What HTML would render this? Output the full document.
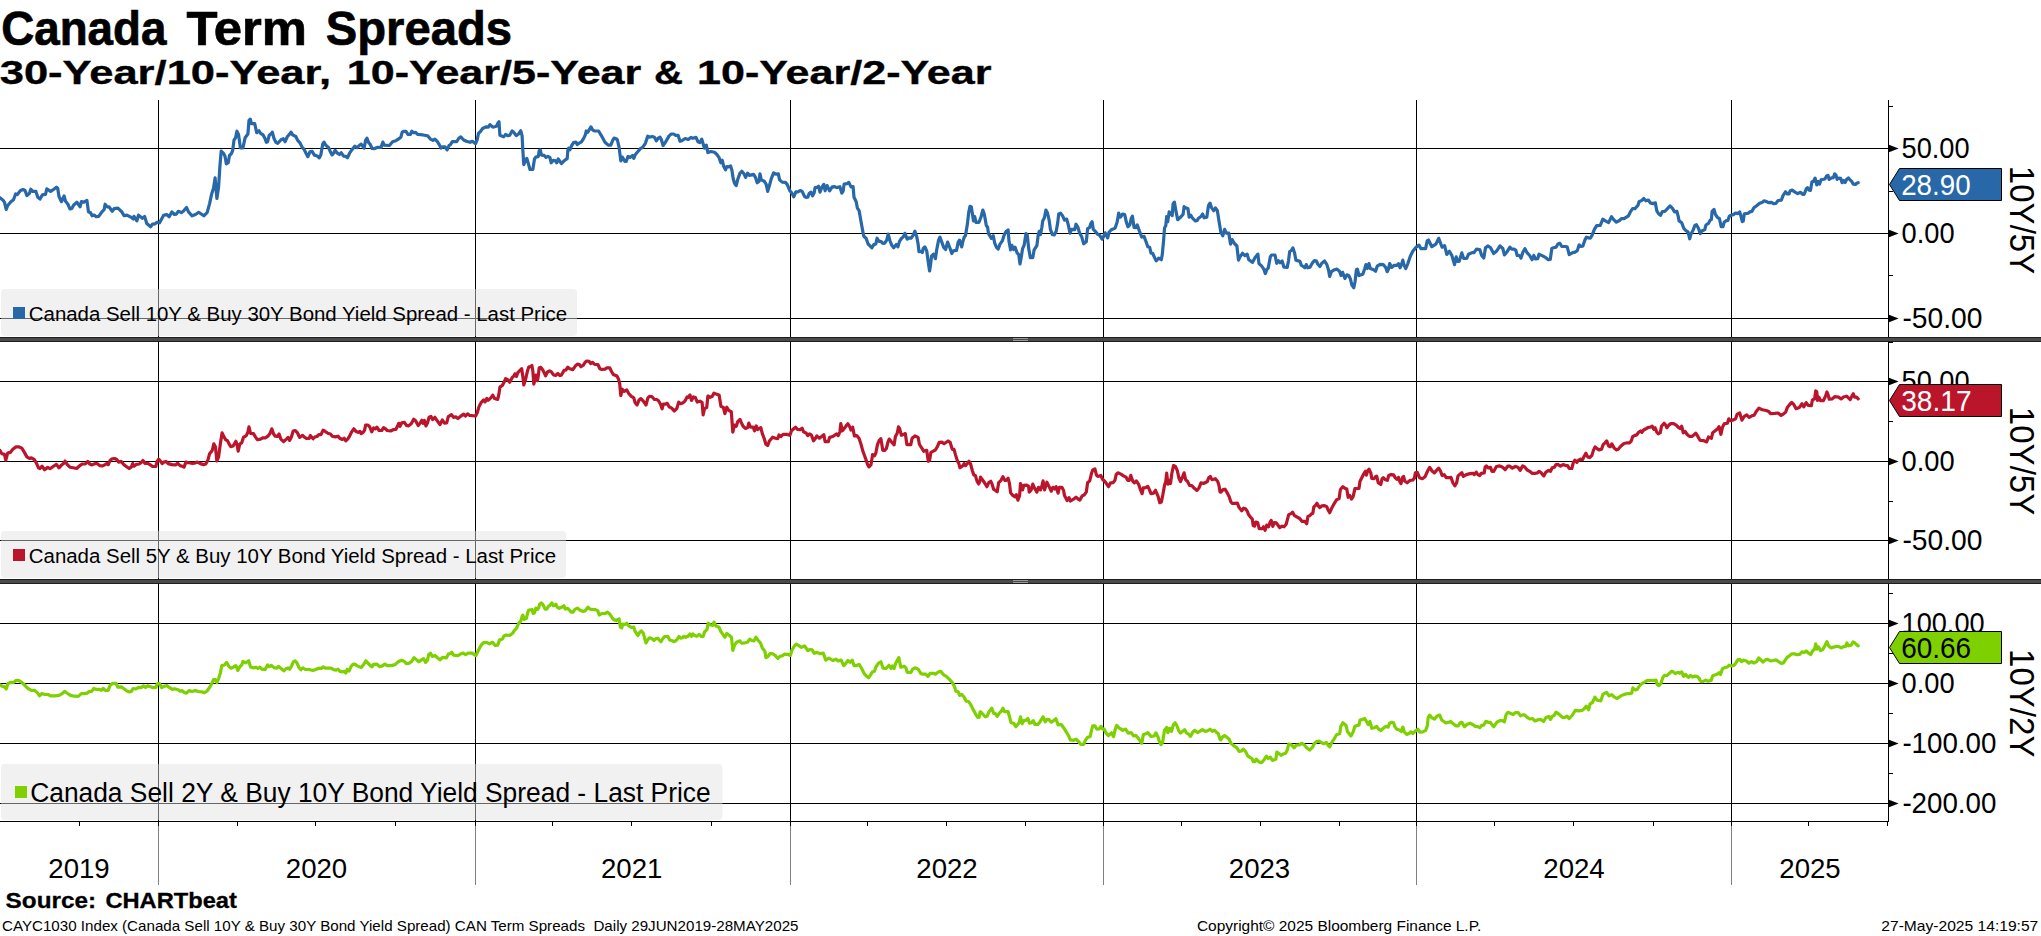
<!DOCTYPE html>
<html><head><meta charset="utf-8"><title>Canada Term Spreads</title>
<style>
html,body{margin:0;padding:0;background:#fff;}
body{width:2041px;height:936px;overflow:hidden;font-family:"Liberation Sans",sans-serif;}
svg{display:block;}
text{font-family:"Liberation Sans",sans-serif;fill:#000;}
.b{font-weight:bold;}
.g line{stroke:#000;stroke-width:1;shape-rendering:crispEdges;}
.d{fill:none;stroke-linejoin:round;stroke-linecap:round;}
</style></head>
<body>
<svg width="2041" height="936" viewBox="0 0 2041 936">
<rect x="0" y="0" width="2041" height="936" fill="#fff"/>
<text x="1.2" y="45.4" font-size="47.6" textLength="165.2" lengthAdjust="spacingAndGlyphs" class="b" stroke="#000" stroke-width="0.7">Canada</text>
<text x="186.5" y="45.4" font-size="47.6" textLength="120.5" lengthAdjust="spacingAndGlyphs" class="b" stroke="#000" stroke-width="0.7">Term</text>
<text x="325.8" y="45.4" font-size="47.6" textLength="186.2" lengthAdjust="spacingAndGlyphs" class="b" stroke="#000" stroke-width="0.7">Spreads</text>
<text x="-0.3" y="83.8" font-size="33.3" textLength="331.5" lengthAdjust="spacingAndGlyphs" class="b" stroke="#000" stroke-width="0.35">30-Year/10-Year,</text>
<text x="346.8" y="83.8" font-size="33.3" textLength="294.5" lengthAdjust="spacingAndGlyphs" class="b" stroke="#000" stroke-width="0.35">10-Year/5-Year</text>
<text x="654" y="83.8" font-size="33.3" textLength="29" lengthAdjust="spacingAndGlyphs" class="b" stroke="#000" stroke-width="0.35">&amp;</text>
<text x="697" y="83.8" font-size="33.3" textLength="294.5" lengthAdjust="spacingAndGlyphs" class="b" stroke="#000" stroke-width="0.35">10-Year/2-Year</text>
<g class="g">
<line x1="158.5" y1="100" x2="158.5" y2="826"/>
<line x1="158.5" y1="826" x2="158.5" y2="885" style="stroke:#808080"/>
<line x1="475.5" y1="100" x2="475.5" y2="826"/>
<line x1="475.5" y1="826" x2="475.5" y2="885" style="stroke:#808080"/>
<line x1="790.5" y1="100" x2="790.5" y2="826"/>
<line x1="790.5" y1="826" x2="790.5" y2="885" style="stroke:#808080"/>
<line x1="1103.5" y1="100" x2="1103.5" y2="826"/>
<line x1="1103.5" y1="826" x2="1103.5" y2="885" style="stroke:#808080"/>
<line x1="1416.5" y1="100" x2="1416.5" y2="826"/>
<line x1="1416.5" y1="826" x2="1416.5" y2="885" style="stroke:#808080"/>
<line x1="1731.5" y1="100" x2="1731.5" y2="826"/>
<line x1="1731.5" y1="826" x2="1731.5" y2="885" style="stroke:#808080"/>
<line x1="0" y1="148.5" x2="1889" y2="148.5"/>
<line x1="0" y1="233.5" x2="1889" y2="233.5"/>
<line x1="0" y1="318.5" x2="1889" y2="318.5"/>
<line x1="0" y1="381.5" x2="1889" y2="381.5"/>
<line x1="0" y1="461.5" x2="1889" y2="461.5"/>
<line x1="0" y1="540.5" x2="1889" y2="540.5"/>
<line x1="0" y1="623.5" x2="1889" y2="623.5"/>
<line x1="0" y1="683.5" x2="1889" y2="683.5"/>
<line x1="0" y1="743.5" x2="1889" y2="743.5"/>
<line x1="0" y1="803.5" x2="1889" y2="803.5"/>
<line x1="1888.5" y1="100" x2="1888.5" y2="822"/>
<line x1="0" y1="821.5" x2="1889" y2="821.5"/>
<line x1="79.5" y1="822" x2="79.5" y2="826"/>
<line x1="237.5" y1="822" x2="237.5" y2="826"/>
<line x1="315.5" y1="822" x2="315.5" y2="826"/>
<line x1="395.5" y1="822" x2="395.5" y2="826"/>
<line x1="552.5" y1="822" x2="552.5" y2="826"/>
<line x1="631.5" y1="822" x2="631.5" y2="826"/>
<line x1="711.5" y1="822" x2="711.5" y2="826"/>
<line x1="867.5" y1="822" x2="867.5" y2="826"/>
<line x1="946.5" y1="822" x2="946.5" y2="826"/>
<line x1="1025.5" y1="822" x2="1025.5" y2="826"/>
<line x1="1181.5" y1="822" x2="1181.5" y2="826"/>
<line x1="1260.5" y1="822" x2="1260.5" y2="826"/>
<line x1="1339.5" y1="822" x2="1339.5" y2="826"/>
<line x1="1494.5" y1="822" x2="1494.5" y2="826"/>
<line x1="1573.5" y1="822" x2="1573.5" y2="826"/>
<line x1="1653.5" y1="822" x2="1653.5" y2="826"/>
<line x1="1808.5" y1="822" x2="1808.5" y2="826"/>
<line x1="1887.5" y1="822" x2="1887.5" y2="826"/>
<line x1="1889" y1="106.5" x2="1893" y2="106.5"/>
<line x1="1889" y1="191.5" x2="1893" y2="191.5"/>
<line x1="1889" y1="275.5" x2="1893" y2="275.5"/>
<line x1="1889" y1="342.5" x2="1893" y2="342.5"/>
<line x1="1889" y1="421.5" x2="1893" y2="421.5"/>
<line x1="1889" y1="501.5" x2="1893" y2="501.5"/>
<line x1="1889" y1="593.5" x2="1893" y2="593.5"/>
<line x1="1889" y1="653.5" x2="1893" y2="653.5"/>
<line x1="1889" y1="713.5" x2="1893" y2="713.5"/>
<line x1="1889" y1="773.5" x2="1893" y2="773.5"/>
</g>
<path d="M1889 144.8 L1898.6 148.5 L1889 152.2 Z" fill="#000"/>
<path d="M1889 229.8 L1898.6 233.5 L1889 237.2 Z" fill="#000"/>
<path d="M1889 314.8 L1898.6 318.5 L1889 322.2 Z" fill="#000"/>
<path d="M1889 377.8 L1898.6 381.5 L1889 385.2 Z" fill="#000"/>
<path d="M1889 457.8 L1898.6 461.5 L1889 465.2 Z" fill="#000"/>
<path d="M1889 536.8 L1898.6 540.5 L1889 544.2 Z" fill="#000"/>
<path d="M1889 619.8 L1898.6 623.5 L1889 627.2 Z" fill="#000"/>
<path d="M1889 679.8 L1898.6 683.5 L1889 687.2 Z" fill="#000"/>
<path d="M1889 739.8 L1898.6 743.5 L1889 747.2 Z" fill="#000"/>
<path d="M1889 799.8 L1898.6 803.5 L1889 807.2 Z" fill="#000"/>
<path class="d" d="M0.0 197.8 L3.2 200.4 L4.5 202.3 L6.2 209.4 L7.7 205.5 L10.9 201.7 L13.5 199.7 L15.6 194.0 L17.3 194.6 L20.5 190.5 L23.1 189.5 L25.0 190.5 L26.9 195.6 L29.5 193.3 L30.8 189.2 L32.7 191.4 L35.9 191.4 L37.8 197.2 L40.0 199.1 L42.3 194.9 L45.5 194.4 L46.8 188.8 L50.6 191.4 L53.8 189.2 L56.4 187.2 L57.7 188.2 L59.0 196.5 L61.5 201.7 L64.1 195.9 L65.4 201.0 L67.9 204.2 L69.9 209.0 L71.8 208.5 L73.7 204.9 L76.9 202.3 L80.1 206.8 L81.4 201.7 L84.0 202.1 L86.9 200.4 L88.5 211.9 L90.4 212.6 L92.1 215.8 L94.2 215.1 L96.2 216.7 L98.7 216.4 L101.9 211.9 L104.1 209.7 L105.1 204.2 L107.1 206.8 L109.0 206.8 L112.2 211.3 L114.1 208.7 L117.9 208.1 L121.8 211.9 L124.1 215.8 L126.9 215.1 L130.8 217.1 L133.3 219.0 L134.0 216.4 L136.9 220.9 L138.5 215.1 L142.3 218.3 L144.6 216.4 L146.8 223.5 L150.6 226.7 L152.6 224.1 L155.1 223.8 L157.1 222.2 L159.6 222.8 L163.5 215.4 L166.7 214.5 L169.2 216.7 L171.8 211.9 L174.4 214.5 L176.3 214.1 L178.2 211.3 L181.4 212.6 L183.3 211.3 L186.5 207.4 L188.5 211.9 L192.1 215.8 L195.5 214.5 L198.7 212.3 L203.8 215.8 L207.1 212.6 L209.6 203.6 L211.5 194.6 L213.5 188.2 L215.1 177.9 L216.9 198.5 L218.6 186.9 L219.9 166.4 L221.2 151.0 L223.7 153.6 L225.0 156.2 L226.3 163.8 L228.2 162.6 L229.5 155.5 L231.4 153.6 L232.7 150.4 L234.0 140.1 L235.6 137.6 L236.9 131.2 L238.5 134.4 L240.4 147.8 L242.9 147.8 L245.1 137.8 L247.9 134.0 L249.0 120.5 L250.3 119.2 L251.5 123.7 L254.7 123.7 L256.7 132.7 L259.0 130.8 L260.5 133.3 L263.1 134.9 L265.0 138.5 L266.3 142.3 L267.6 141.7 L269.2 135.3 L271.4 133.6 L272.3 132.1 L274.0 138.5 L275.9 142.3 L277.8 143.3 L281.0 139.7 L283.3 138.7 L285.1 141.7 L287.4 136.5 L289.4 134.4 L291.0 132.1 L292.6 134.9 L295.8 136.5 L297.7 140.4 L300.0 142.9 L302.2 147.4 L304.1 149.4 L306.0 153.2 L307.9 156.7 L309.9 151.9 L312.1 151.3 L314.4 155.1 L316.9 155.8 L319.2 157.9 L320.8 155.1 L322.7 144.2 L324.0 142.1 L325.6 145.1 L328.5 147.4 L330.4 151.9 L332.1 154.9 L333.6 153.2 L335.1 150.3 L337.4 153.2 L339.4 154.5 L341.3 152.8 L343.6 156.2 L345.8 156.4 L347.4 157.7 L349.6 153.2 L352.2 149.4 L354.7 146.2 L357.3 147.7 L359.2 145.5 L361.2 144.2 L364.1 148.1 L365.6 140.4 L366.9 138.2 L368.8 142.9 L370.1 144.2 L372.1 148.5 L374.0 148.7 L377.2 147.4 L381.0 147.4 L382.9 142.1 L384.2 145.1 L389.4 145.5 L392.6 141.7 L395.8 140.8 L398.3 139.1 L400.9 137.2 L402.2 132.1 L403.5 131.4 L406.0 131.4 L407.9 134.4 L410.5 134.4 L411.8 131.2 L413.7 132.7 L415.6 132.3 L417.6 134.4 L420.8 134.6 L424.6 135.3 L427.8 135.9 L430.4 139.1 L432.9 140.4 L434.9 139.1 L437.4 141.7 L439.4 144.9 L441.0 148.1 L442.6 146.8 L445.1 146.8 L447.1 150.0 L449.0 145.5 L450.3 144.9 L452.2 141.7 L456.7 141.7 L458.6 138.5 L460.8 136.9 L463.7 140.0 L466.3 141.3 L470.1 142.3 L472.3 141.3 L475.6 143.6 L477.2 139.7 L478.5 133.3 L480.0 132.1 L482.6 128.5 L485.8 126.9 L488.3 127.2 L490.0 124.6 L492.8 127.2 L496.4 126.3 L497.9 123.1 L499.0 121.8 L499.9 135.3 L503.7 136.9 L505.6 134.4 L507.6 135.6 L509.7 135.3 L512.1 131.0 L513.6 132.1 L516.2 135.6 L518.5 134.0 L520.8 130.8 L522.1 135.9 L522.9 151.3 L523.8 164.7 L525.1 161.5 L526.8 158.3 L528.5 164.1 L530.0 169.5 L532.8 169.5 L534.5 159.0 L535.8 157.1 L538.3 156.4 L539.2 150.6 L540.3 150.0 L541.5 155.1 L544.1 155.4 L546.0 157.4 L547.9 156.4 L549.9 157.4 L551.2 162.8 L553.3 160.3 L555.4 160.9 L556.7 162.8 L558.2 159.0 L561.4 163.5 L564.6 160.3 L567.2 158.7 L567.8 150.6 L568.7 148.1 L570.0 149.7 L571.7 145.5 L573.6 142.6 L575.9 142.1 L577.2 144.6 L579.4 142.9 L581.3 142.1 L583.8 138.2 L585.4 134.6 L586.2 131.0 L587.7 132.3 L589.6 129.2 L590.9 126.9 L592.8 130.1 L594.7 131.0 L598.6 131.0 L601.2 135.3 L605.0 142.3 L608.2 145.1 L610.8 145.1 L612.7 140.4 L614.0 138.2 L615.9 138.5 L617.4 140.0 L619.1 147.4 L620.8 160.9 L622.3 157.1 L624.9 161.5 L626.2 161.3 L628.1 156.4 L630.0 157.4 L632.6 155.4 L633.8 158.3 L635.4 154.5 L640.3 148.7 L642.6 147.4 L645.4 143.3 L647.7 136.2 L649.2 137.2 L652.4 136.5 L654.4 137.2 L656.3 140.8 L658.2 138.2 L660.1 137.2 L661.4 139.7 L663.1 145.5 L665.3 142.3 L666.5 140.4 L669.1 135.9 L671.3 134.0 L673.6 134.0 L675.5 135.3 L678.1 135.3 L680.0 141.3 L681.9 140.8 L685.1 138.5 L688.3 139.5 L690.9 137.4 L692.8 138.2 L696.0 137.4 L697.9 141.7 L699.9 142.6 L701.8 139.1 L704.4 148.1 L706.3 145.1 L707.9 152.6 L710.8 151.5 L714.6 152.3 L716.9 154.5 L719.1 157.7 L720.8 162.8 L722.3 160.3 L723.6 166.0 L725.5 169.9 L726.8 166.7 L728.7 166.9 L730.6 166.0 L731.9 170.3 L733.2 178.8 L734.5 183.3 L736.2 185.6 L737.7 179.5 L740.0 173.1 L740.5 172.8 L741.8 171.3 L744.1 174.1 L745.6 177.3 L747.6 173.1 L749.5 175.4 L753.6 174.4 L755.6 177.7 L757.2 182.8 L759.1 181.2 L760.0 173.8 L761.3 179.9 L764.2 181.2 L766.2 184.4 L767.7 191.4 L769.4 185.6 L771.3 178.6 L773.6 172.8 L775.8 174.1 L778.3 173.8 L779.6 179.9 L782.2 182.1 L785.4 182.4 L787.3 184.6 L789.9 190.8 L791.8 193.1 L793.7 196.9 L795.9 191.8 L798.2 191.8 L800.1 190.5 L802.1 191.4 L804.6 196.5 L806.2 197.4 L807.8 197.2 L809.1 193.6 L811.0 192.1 L812.6 195.9 L814.2 192.7 L815.1 187.6 L817.4 187.2 L818.5 186.3 L820.0 192.1 L821.9 187.2 L823.8 184.4 L825.1 190.8 L827.1 185.6 L829.6 190.8 L832.2 186.9 L834.7 186.7 L836.7 187.6 L839.9 186.7 L841.8 193.1 L843.1 191.4 L844.1 184.1 L846.9 183.7 L848.8 182.4 L851.0 186.9 L853.1 186.7 L854.0 197.2 L856.2 201.7 L857.4 208.1 L859.1 210.6 L861.0 221.5 L862.9 231.8 L863.8 236.3 L866.2 238.5 L868.1 244.0 L870.0 245.9 L871.9 247.8 L873.8 244.6 L875.8 244.0 L877.1 238.2 L879.0 241.4 L880.9 241.4 L882.8 243.3 L884.7 243.1 L886.7 240.1 L888.2 234.1 L889.9 240.5 L891.8 245.3 L893.7 247.8 L896.3 244.4 L897.9 246.9 L899.5 241.4 L901.4 238.5 L903.3 236.9 L904.9 233.3 L907.2 239.2 L909.1 237.9 L911.0 238.2 L912.9 235.6 L914.9 231.2 L916.8 236.9 L918.1 244.0 L919.0 251.7 L920.6 251.3 L922.3 252.6 L923.2 248.5 L924.9 246.9 L926.7 250.8 L928.3 262.6 L929.6 270.9 L930.5 265.1 L931.5 256.2 L933.5 254.2 L935.4 258.7 L936.7 249.7 L938.6 240.1 L939.9 237.2 L941.8 242.1 L943.7 247.4 L945.6 249.5 L947.6 242.1 L950.1 248.5 L951.8 253.6 L953.3 250.8 L956.5 250.4 L958.2 242.1 L959.5 240.1 L961.7 246.9 L962.9 241.4 L964.2 237.2 L965.5 235.6 L967.4 224.1 L968.7 212.6 L970.0 206.4 L971.3 206.8 L973.5 221.0 L974.7 216.5 L976.0 222.3 L979.0 222.3 L981.2 216.5 L982.8 210.1 L984.4 214.6 L986.3 225.5 L987.6 227.2 L988.5 233.6 L991.4 238.3 L993.3 235.8 L994.6 242.8 L996.5 247.3 L998.2 249.0 L1000.0 244.1 L1002.3 240.9 L1004.2 235.1 L1006.2 231.3 L1008.1 230.0 L1009.0 241.3 L1010.6 249.9 L1011.9 245.4 L1013.6 249.5 L1015.1 247.3 L1017.1 253.1 L1018.7 254.4 L1020.0 264.0 L1021.3 256.9 L1022.6 248.6 L1024.1 245.4 L1026.0 233.6 L1027.3 235.1 L1028.6 247.9 L1030.3 257.6 L1032.8 257.6 L1034.1 249.9 L1036.9 245.6 L1038.2 235.1 L1039.2 231.3 L1040.5 234.5 L1041.8 227.7 L1042.7 221.0 L1044.4 217.8 L1045.9 210.1 L1047.4 212.7 L1049.1 220.0 L1050.4 229.4 L1052.3 234.5 L1054.2 234.9 L1056.2 231.3 L1057.7 222.9 L1058.7 214.0 L1060.6 213.1 L1062.6 215.9 L1064.5 220.0 L1066.7 219.1 L1068.3 224.9 L1070.0 233.2 L1071.5 229.4 L1074.7 229.7 L1076.0 224.2 L1077.9 227.2 L1079.5 232.8 L1081.8 237.1 L1083.7 243.8 L1086.3 241.8 L1087.6 228.7 L1089.5 227.7 L1090.8 223.6 L1092.1 221.7 L1093.3 229.4 L1095.3 231.3 L1097.2 233.8 L1099.7 235.4 L1102.1 239.2 L1103.6 236.4 L1105.1 232.8 L1107.7 237.9 L1109.0 232.3 L1111.3 229.7 L1115.1 228.1 L1117.1 222.3 L1118.7 213.1 L1120.3 217.2 L1122.6 214.0 L1124.7 214.6 L1126.4 222.3 L1127.9 226.8 L1129.9 224.6 L1131.2 218.5 L1132.4 216.2 L1134.1 227.4 L1135.9 227.7 L1137.2 224.9 L1139.5 231.3 L1141.8 237.1 L1144.0 236.4 L1145.9 241.3 L1147.8 246.7 L1149.7 247.3 L1151.0 253.1 L1152.6 253.3 L1154.9 258.2 L1156.2 260.8 L1158.7 258.2 L1161.3 259.7 L1162.3 254.4 L1163.6 240.3 L1164.5 228.1 L1165.8 225.5 L1166.7 216.5 L1167.7 221.7 L1169.2 211.8 L1170.9 213.6 L1172.2 215.6 L1173.1 203.7 L1174.4 202.1 L1176.0 211.4 L1177.7 219.7 L1179.9 217.8 L1183.1 214.4 L1184.1 206.7 L1185.6 207.9 L1187.9 208.5 L1189.2 217.2 L1190.8 215.3 L1192.3 217.8 L1195.3 221.0 L1197.2 220.4 L1198.5 218.2 L1201.0 216.5 L1202.6 214.0 L1204.2 217.8 L1206.8 217.2 L1208.5 205.6 L1210.0 203.1 L1211.5 207.6 L1213.8 210.8 L1215.4 207.9 L1217.3 210.5 L1219.2 222.3 L1220.8 231.9 L1222.8 235.8 L1224.6 229.4 L1226.3 233.2 L1228.8 233.2 L1230.5 244.1 L1232.1 239.6 L1234.4 243.5 L1236.9 246.0 L1238.5 260.1 L1240.0 256.9 L1242.6 253.3 L1244.9 255.6 L1247.2 254.1 L1248.7 259.7 L1252.6 262.3 L1255.1 257.6 L1257.9 254.1 L1259.0 263.6 L1261.5 265.9 L1263.8 269.1 L1265.4 273.6 L1266.7 269.7 L1268.2 268.2 L1270.3 256.9 L1271.5 255.0 L1275.0 255.0 L1276.7 263.3 L1278.5 260.8 L1280.1 262.7 L1282.1 261.0 L1284.0 267.2 L1287.2 267.4 L1288.5 260.8 L1289.7 251.5 L1291.3 250.5 L1292.9 247.9 L1294.6 253.1 L1295.9 260.1 L1300.0 261.4 L1301.3 265.3 L1304.9 267.8 L1306.2 264.6 L1307.9 267.8 L1310.0 267.2 L1312.2 263.3 L1314.4 260.5 L1316.4 261.0 L1317.7 264.0 L1319.9 266.5 L1321.8 263.3 L1324.6 261.0 L1326.9 264.6 L1328.5 270.0 L1329.7 276.4 L1331.4 271.7 L1334.6 269.7 L1336.9 269.1 L1339.5 271.3 L1341.0 275.5 L1342.6 272.3 L1344.9 278.5 L1346.8 274.9 L1348.7 275.5 L1350.3 278.7 L1351.9 285.1 L1353.8 287.7 L1355.1 281.3 L1356.4 269.7 L1357.4 269.1 L1359.0 275.5 L1362.8 274.2 L1364.7 268.7 L1366.0 264.6 L1367.3 268.5 L1369.0 263.6 L1370.3 268.5 L1373.1 269.5 L1375.6 271.3 L1377.2 266.2 L1380.1 264.4 L1383.3 264.6 L1385.6 267.2 L1387.2 271.7 L1388.5 269.1 L1389.7 263.6 L1391.7 267.4 L1394.2 265.3 L1396.8 265.3 L1398.5 263.6 L1400.0 267.8 L1401.5 264.6 L1402.8 260.1 L1404.1 265.3 L1405.8 268.5 L1407.7 264.0 L1410.3 256.3 L1412.8 251.2 L1416.0 247.3 L1419.0 245.1 L1420.8 248.6 L1425.6 248.6 L1427.2 240.9 L1428.5 240.0 L1431.8 246.7 L1435.9 244.1 L1438.7 238.3 L1440.4 242.8 L1442.1 247.3 L1444.6 245.6 L1446.8 254.4 L1449.4 251.2 L1451.9 255.6 L1454.5 264.6 L1456.2 256.9 L1457.7 261.4 L1459.2 261.3 L1461.8 252.9 L1463.7 258.5 L1466.7 258.5 L1468.5 254.2 L1472.1 252.6 L1474.0 252.6 L1476.5 249.1 L1479.7 249.5 L1481.7 255.5 L1483.8 258.1 L1485.5 247.8 L1488.1 245.9 L1490.6 247.8 L1493.6 253.6 L1496.4 251.3 L1500.0 245.9 L1502.8 248.5 L1504.4 254.9 L1506.7 252.3 L1509.9 247.2 L1511.8 249.1 L1514.1 249.1 L1515.9 250.4 L1517.2 255.5 L1519.5 255.5 L1521.0 258.1 L1523.1 251.7 L1524.9 248.7 L1527.2 252.9 L1529.7 255.5 L1532.1 259.7 L1533.8 255.5 L1535.5 259.0 L1537.7 258.7 L1539.0 254.2 L1542.6 255.9 L1545.8 257.7 L1548.3 259.7 L1550.3 259.4 L1551.8 248.5 L1553.5 247.8 L1556.0 247.2 L1557.9 244.0 L1559.9 243.3 L1561.8 246.5 L1565.0 246.5 L1567.2 246.9 L1569.2 254.6 L1572.7 252.6 L1575.3 252.1 L1577.4 250.4 L1579.1 244.9 L1581.0 246.5 L1582.9 245.9 L1584.9 240.1 L1586.4 237.2 L1588.7 237.9 L1590.3 238.2 L1591.9 235.6 L1594.5 229.2 L1596.7 225.6 L1600.3 225.4 L1602.8 219.2 L1605.4 220.9 L1608.6 222.6 L1611.5 216.7 L1613.7 219.6 L1616.3 222.2 L1619.5 220.5 L1621.4 218.7 L1624.0 218.7 L1628.5 215.8 L1630.4 211.9 L1632.6 208.5 L1634.9 208.7 L1638.1 205.1 L1639.0 201.7 L1641.9 200.4 L1643.8 198.5 L1645.8 200.8 L1648.3 200.0 L1650.3 202.9 L1652.8 203.6 L1655.4 202.9 L1656.7 210.6 L1658.6 213.8 L1660.5 215.4 L1662.4 211.5 L1665.0 211.3 L1667.9 208.1 L1670.1 205.9 L1672.3 208.1 L1674.6 211.9 L1676.9 211.3 L1678.2 216.4 L1679.1 220.9 L1681.7 222.8 L1683.6 227.9 L1685.5 230.3 L1688.1 232.1 L1689.7 238.8 L1691.0 234.1 L1693.2 229.9 L1694.9 225.4 L1696.4 224.7 L1698.5 228.3 L1700.2 233.7 L1701.8 231.0 L1704.8 229.6 L1705.9 225.0 L1708.5 223.4 L1710.0 220.4 L1711.4 219.5 L1712.1 211.4 L1714.0 209.5 L1715.4 214.3 L1717.6 217.6 L1719.4 218.5 L1721.2 226.6 L1723.0 226.6 L1724.1 222.3 L1725.8 220.9 L1727.9 220.4 L1729.3 216.3 L1731.0 215.2 L1733.4 214.6 L1735.6 213.0 L1737.8 213.6 L1739.7 211.9 L1741.0 216.3 L1742.3 221.7 L1743.2 221.2 L1744.3 213.9 L1748.1 213.2 L1749.7 211.9 L1751.9 211.4 L1753.9 207.8 L1756.3 205.9 L1759.3 203.4 L1762.3 202.3 L1763.9 200.8 L1766.6 201.6 L1768.5 202.7 L1771.5 202.3 L1773.5 203.7 L1775.9 203.4 L1778.1 200.5 L1781.3 200.2 L1783.0 195.6 L1785.5 191.8 L1787.3 193.9 L1789.0 193.9 L1790.3 190.7 L1792.2 190.1 L1795.0 192.1 L1797.7 193.6 L1800.4 192.3 L1802.6 194.3 L1804.2 194.3 L1806.4 188.5 L1807.5 187.7 L1809.1 190.1 L1810.5 190.3 L1811.9 182.0 L1813.5 181.2 L1815.1 178.1 L1816.8 184.9 L1818.2 181.4 L1819.5 184.1 L1821.1 179.8 L1824.9 179.0 L1826.6 176.0 L1828.0 175.4 L1829.1 179.4 L1831.5 177.9 L1833.4 177.6 L1834.7 173.8 L1836.0 175.1 L1837.1 179.4 L1838.5 178.1 L1840.7 178.4 L1842.1 182.7 L1843.7 180.5 L1845.1 182.5 L1846.7 179.2 L1848.4 177.9 L1850.2 180.1 L1851.6 181.2 L1853.3 184.1 L1855.4 184.5 L1857.1 183.0 L1858.2 182.7" stroke="#2868a8" stroke-width="3.2"/>
<path class="d" d="M0.0 450.5 L1.9 453.7 L4.5 454.4 L5.8 460.1 L7.7 453.1 L10.3 452.4 L12.8 449.2 L16.0 446.9 L19.2 446.9 L21.8 448.2 L24.4 452.4 L26.9 456.9 L29.5 458.5 L31.4 457.9 L34.4 459.7 L36.5 463.3 L38.5 467.8 L40.0 468.5 L42.1 466.2 L44.6 469.7 L47.7 467.4 L50.0 468.7 L53.2 466.5 L56.4 464.4 L59.0 467.8 L61.3 465.3 L63.5 463.6 L65.1 461.0 L67.3 464.6 L69.9 467.2 L73.1 467.8 L76.7 468.5 L79.5 465.9 L82.1 464.0 L85.3 464.0 L87.8 461.4 L89.7 464.0 L92.1 464.9 L94.9 463.6 L97.4 463.6 L99.7 465.6 L102.6 465.9 L105.1 464.6 L107.1 463.3 L108.3 464.6 L110.0 460.5 L112.2 458.8 L114.7 458.5 L116.7 459.5 L118.6 462.1 L121.2 461.4 L123.7 464.4 L126.3 466.5 L129.2 468.5 L131.4 466.9 L132.7 463.6 L134.0 466.2 L136.2 464.4 L139.1 464.0 L141.0 462.7 L142.9 460.5 L144.9 463.3 L147.4 463.3 L150.0 464.6 L152.6 466.5 L155.8 466.5 L157.1 461.4 L158.7 459.2 L160.3 460.8 L162.2 463.6 L164.1 462.1 L166.0 461.4 L168.2 463.6 L171.8 464.6 L175.6 464.9 L177.6 463.3 L180.1 465.6 L182.1 466.2 L184.0 467.2 L185.9 462.1 L188.5 462.7 L191.7 463.3 L194.9 463.1 L197.4 462.1 L200.3 463.6 L203.6 464.6 L205.8 464.0 L207.9 460.1 L209.6 453.7 L212.2 450.5 L213.8 443.8 L215.4 446.7 L216.9 461.0 L218.6 456.9 L220.3 444.1 L222.1 432.8 L223.7 436.4 L225.6 439.6 L227.6 440.9 L229.5 444.7 L230.8 446.7 L233.1 446.0 L235.9 441.3 L237.2 445.4 L238.2 451.2 L239.7 444.1 L241.7 442.8 L243.6 437.1 L245.5 436.2 L246.4 435.3 L247.9 432.1 L249.0 426.9 L250.5 433.3 L253.5 433.6 L255.4 436.9 L257.3 439.7 L260.5 439.1 L263.1 437.8 L265.6 437.8 L268.2 435.9 L270.1 433.3 L271.8 428.8 L273.6 434.0 L275.3 436.2 L277.4 436.5 L279.1 434.0 L280.8 439.1 L283.6 441.7 L286.4 439.1 L288.1 437.4 L289.7 440.4 L291.3 437.2 L293.2 431.0 L295.1 430.5 L297.4 432.7 L299.6 437.4 L302.6 435.3 L304.7 437.4 L306.7 438.5 L309.2 438.5 L310.3 435.6 L313.1 438.7 L315.0 436.9 L316.9 436.5 L318.8 434.6 L321.0 434.6 L323.1 430.1 L325.3 431.4 L327.8 433.3 L330.4 434.0 L332.3 436.2 L335.5 436.9 L338.1 436.2 L339.7 438.2 L342.3 439.5 L344.1 438.2 L345.8 440.8 L347.7 439.1 L349.6 436.2 L351.5 432.1 L353.8 428.8 L356.0 431.4 L358.2 432.3 L359.9 431.4 L361.2 433.6 L363.3 432.1 L364.6 430.1 L365.6 425.0 L367.9 425.0 L369.7 426.9 L371.8 431.8 L373.6 427.9 L375.3 428.8 L376.9 427.2 L379.1 430.5 L381.7 430.5 L383.6 427.6 L385.1 428.5 L387.2 430.5 L390.6 431.0 L393.2 429.7 L395.8 429.5 L397.4 426.3 L398.7 423.3 L400.0 426.3 L401.8 422.8 L404.4 422.4 L406.4 425.4 L408.6 425.9 L411.2 423.7 L413.7 419.2 L415.6 420.8 L418.2 425.6 L420.1 423.1 L421.8 420.3 L423.1 423.3 L424.4 420.5 L425.9 425.9 L427.4 423.3 L429.1 417.3 L431.0 416.4 L432.6 419.5 L434.9 417.3 L437.2 420.8 L440.0 424.6 L442.3 419.9 L444.5 423.1 L446.7 422.8 L448.3 416.7 L451.5 414.7 L453.5 417.3 L456.0 416.9 L457.9 418.6 L460.5 416.4 L463.7 414.1 L465.4 416.0 L467.6 413.8 L469.5 415.4 L475.6 416.0 L477.2 412.8 L479.1 406.4 L481.3 402.3 L483.6 400.0 L485.1 401.9 L486.8 398.5 L488.1 400.3 L490.6 398.1 L492.8 395.1 L494.5 398.5 L497.7 399.4 L499.0 393.6 L499.9 387.1 L502.4 385.4 L504.4 381.5 L505.6 378.6 L507.6 379.6 L509.7 382.2 L512.1 377.7 L514.0 375.8 L514.9 373.8 L516.5 376.4 L517.8 372.6 L519.7 370.6 L521.7 368.7 L522.9 377.1 L523.8 385.0 L525.5 379.6 L527.4 371.3 L528.7 367.1 L530.6 366.5 L531.9 365.5 L532.8 370.6 L533.8 384.1 L535.1 379.6 L535.8 375.1 L537.4 380.6 L538.3 375.8 L539.2 367.8 L540.9 367.4 L542.8 370.0 L544.7 373.8 L545.6 375.8 L547.3 372.2 L549.5 370.9 L551.2 371.7 L553.3 374.7 L555.6 375.5 L557.9 373.5 L559.7 375.5 L561.4 375.1 L564.0 370.4 L565.9 370.0 L567.8 367.1 L569.7 368.7 L572.9 369.6 L575.5 365.8 L577.4 364.2 L579.4 364.5 L581.0 366.8 L583.2 365.3 L585.1 362.3 L586.7 361.0 L589.0 361.4 L590.9 363.6 L592.6 362.3 L594.7 364.5 L597.9 364.5 L599.9 368.7 L601.8 369.4 L605.0 369.1 L606.9 367.8 L609.7 367.8 L611.4 371.3 L613.3 374.5 L616.9 376.0 L618.5 379.0 L619.7 383.5 L620.8 395.6 L622.3 389.2 L624.2 391.4 L626.8 389.9 L628.7 393.5 L631.3 396.3 L633.8 397.8 L635.1 402.7 L637.1 405.0 L639.0 400.1 L640.9 398.6 L643.5 401.4 L646.0 405.0 L647.9 397.8 L649.5 396.3 L651.8 396.5 L654.4 399.5 L656.7 399.5 L658.5 400.8 L660.5 404.2 L662.1 408.8 L663.3 404.2 L665.3 404.2 L667.2 403.3 L669.1 406.8 L671.7 408.1 L674.2 411.0 L676.8 408.5 L678.7 402.1 L680.6 403.7 L683.2 402.7 L685.1 400.8 L687.1 396.9 L688.3 397.3 L690.0 395.0 L691.5 400.4 L693.5 396.9 L695.4 397.6 L697.3 402.1 L699.9 401.2 L702.1 402.4 L703.1 414.9 L704.6 408.5 L706.7 407.6 L707.9 396.0 L710.1 397.3 L712.1 396.5 L714.0 393.1 L716.9 394.4 L719.1 395.0 L721.0 406.5 L723.3 407.2 L724.9 413.6 L726.8 407.2 L728.7 410.4 L731.3 411.7 L732.8 432.2 L734.5 425.1 L736.2 426.4 L737.7 421.7 L740.0 419.4 L741.2 422.4 L743.1 426.3 L745.6 428.5 L747.6 427.6 L748.8 423.1 L750.5 427.2 L753.1 427.2 L754.6 430.8 L756.2 425.9 L757.8 429.5 L760.8 427.6 L762.3 433.6 L764.2 438.5 L765.9 444.2 L767.7 445.5 L769.4 441.0 L772.6 437.2 L775.4 438.2 L777.7 438.7 L779.0 434.9 L780.9 436.5 L783.1 434.4 L786.7 434.4 L789.9 435.3 L791.5 430.8 L793.7 428.8 L795.6 427.2 L797.6 429.5 L800.1 429.7 L802.1 428.2 L803.6 431.8 L806.2 433.1 L807.8 435.6 L809.5 434.0 L811.3 434.9 L813.6 440.8 L815.5 438.2 L816.8 435.9 L819.4 438.2 L821.9 436.2 L823.8 434.6 L825.1 441.7 L828.3 441.7 L829.6 437.4 L832.8 436.5 L835.1 434.9 L836.7 434.0 L838.2 435.6 L839.9 431.8 L840.8 423.7 L842.4 430.8 L845.0 427.6 L846.3 425.6 L847.9 423.7 L849.7 426.7 L851.0 430.1 L852.7 427.2 L854.4 435.9 L856.9 435.6 L859.1 438.5 L861.0 444.2 L862.9 451.3 L865.5 458.3 L867.4 464.1 L869.0 466.9 L871.0 464.7 L872.6 454.5 L874.5 455.8 L875.8 453.2 L877.4 444.9 L879.2 440.4 L880.9 438.7 L882.8 450.3 L884.7 450.3 L886.4 448.5 L887.9 442.3 L889.2 439.1 L891.8 442.3 L894.1 444.9 L895.4 436.5 L897.2 433.3 L898.5 426.9 L899.7 428.8 L901.4 435.3 L903.3 434.4 L905.3 433.6 L906.9 444.6 L910.8 444.6 L912.1 438.2 L914.9 435.9 L918.1 437.4 L919.4 444.2 L921.5 447.7 L923.8 451.3 L926.7 450.3 L928.3 461.3 L929.6 460.3 L930.9 452.3 L932.8 451.3 L935.4 450.0 L937.3 446.8 L939.2 442.3 L941.8 442.1 L944.1 443.8 L946.3 442.3 L948.2 441.0 L950.1 442.3 L952.3 449.4 L954.0 449.4 L955.6 455.1 L957.4 460.9 L958.7 463.1 L960.0 467.7 L962.9 465.6 L964.2 463.5 L965.5 465.6 L967.4 463.5 L969.0 461.3 L970.6 464.1 L972.3 470.5 L973.8 475.0 L975.4 475.6 L977.1 481.4 L978.7 484.0 L980.0 480.8 L980.5 477.1 L982.4 479.6 L985.0 483.5 L986.9 486.7 L988.8 482.6 L990.8 481.3 L992.1 484.1 L993.6 489.2 L995.9 490.8 L997.2 491.8 L998.7 482.6 L1001.0 480.3 L1002.9 476.7 L1004.9 480.5 L1006.4 480.3 L1008.1 478.3 L1009.4 483.1 L1010.6 492.8 L1012.8 495.4 L1015.1 496.9 L1016.4 494.6 L1017.9 500.1 L1019.6 495.6 L1020.5 483.5 L1022.6 489.9 L1023.8 485.4 L1026.7 485.1 L1028.6 486.4 L1029.2 492.1 L1031.2 489.9 L1032.8 484.1 L1034.4 487.9 L1036.9 492.1 L1038.5 487.3 L1040.5 489.9 L1041.8 486.4 L1043.1 480.9 L1044.6 489.9 L1046.9 482.2 L1048.5 485.4 L1049.7 487.9 L1051.3 491.2 L1052.9 487.3 L1054.9 489.0 L1056.2 486.7 L1058.1 493.1 L1059.4 487.3 L1061.9 487.3 L1063.6 490.5 L1064.5 495.6 L1067.1 500.5 L1069.0 497.6 L1070.5 501.0 L1073.5 499.2 L1076.0 497.2 L1077.9 498.8 L1079.9 500.1 L1082.1 495.9 L1084.1 495.0 L1086.3 492.1 L1087.6 482.8 L1089.7 480.9 L1091.4 473.8 L1092.7 470.0 L1094.9 469.0 L1096.5 475.1 L1097.8 476.4 L1100.8 475.4 L1102.3 479.0 L1104.9 481.5 L1106.8 484.1 L1108.5 486.7 L1110.6 482.8 L1113.2 482.6 L1114.9 480.3 L1116.2 474.5 L1117.9 472.8 L1120.9 474.1 L1123.5 475.8 L1126.0 477.1 L1127.7 480.3 L1129.2 480.5 L1130.8 475.4 L1132.8 481.3 L1134.4 482.8 L1136.3 480.9 L1138.8 484.7 L1140.5 489.9 L1142.1 493.7 L1143.3 487.9 L1145.6 487.7 L1147.8 486.4 L1149.5 489.9 L1151.0 493.7 L1153.6 493.1 L1155.5 490.3 L1158.1 496.3 L1159.7 502.7 L1161.3 502.1 L1162.8 495.0 L1164.5 485.4 L1165.8 481.3 L1166.7 473.2 L1167.9 484.1 L1169.6 480.3 L1170.5 483.5 L1171.8 473.8 L1173.5 465.5 L1175.4 466.4 L1177.3 470.6 L1179.0 478.3 L1180.5 481.5 L1182.4 477.1 L1184.1 472.8 L1185.6 479.6 L1187.6 481.5 L1189.5 485.4 L1191.8 485.6 L1194.6 488.6 L1196.9 490.5 L1199.1 487.7 L1201.0 482.8 L1203.6 483.5 L1207.4 481.5 L1208.7 477.7 L1210.3 476.4 L1211.9 479.6 L1213.6 479.2 L1215.4 478.7 L1217.7 481.5 L1219.0 485.4 L1220.0 491.8 L1220.8 492.2 L1223.1 489.6 L1225.0 489.2 L1227.2 492.8 L1229.2 496.7 L1230.8 501.8 L1232.1 503.3 L1234.6 503.3 L1237.4 503.1 L1239.1 507.6 L1241.7 510.8 L1243.6 508.2 L1245.5 508.8 L1247.4 511.4 L1248.5 514.6 L1250.6 517.2 L1252.3 519.1 L1253.2 525.5 L1254.5 526.2 L1255.8 522.1 L1257.7 522.6 L1259.2 528.7 L1262.2 528.7 L1263.5 526.8 L1265.1 530.3 L1266.7 525.1 L1268.6 526.8 L1269.9 522.6 L1271.2 520.4 L1272.8 526.4 L1274.4 522.6 L1276.3 522.9 L1278.2 525.5 L1279.7 527.7 L1282.1 526.2 L1284.0 526.8 L1286.2 524.2 L1287.4 519.7 L1288.7 514.6 L1291.0 513.6 L1292.6 512.1 L1294.2 515.3 L1296.8 516.9 L1299.7 518.5 L1301.9 521.3 L1304.9 521.3 L1306.7 523.8 L1307.9 516.5 L1310.0 515.6 L1311.3 514.0 L1312.8 513.3 L1313.8 506.9 L1315.4 505.6 L1316.9 503.3 L1318.2 505.6 L1319.9 507.6 L1321.8 505.9 L1324.6 505.6 L1326.7 506.7 L1328.2 510.1 L1329.7 512.7 L1331.4 508.8 L1334.4 503.3 L1336.5 499.9 L1339.1 498.6 L1340.4 489.6 L1341.7 487.9 L1342.9 486.7 L1344.9 488.3 L1346.8 489.0 L1348.1 497.3 L1349.7 495.4 L1351.5 499.0 L1353.2 496.4 L1354.9 488.7 L1359.0 488.3 L1360.0 481.3 L1361.8 477.7 L1363.5 474.2 L1365.4 471.3 L1366.4 475.1 L1367.7 470.8 L1369.0 469.1 L1370.8 472.9 L1371.8 478.5 L1374.1 478.7 L1375.4 476.8 L1376.7 476.2 L1378.2 482.6 L1380.8 484.5 L1382.1 478.7 L1383.3 477.7 L1385.3 479.7 L1387.4 480.3 L1388.7 475.5 L1391.0 474.6 L1393.6 474.9 L1395.5 478.1 L1397.2 479.4 L1398.5 477.4 L1400.0 481.9 L1401.0 483.6 L1402.6 477.4 L1403.6 476.4 L1404.9 481.3 L1407.1 482.8 L1410.3 480.3 L1412.8 480.0 L1414.4 478.1 L1415.4 472.9 L1417.3 472.3 L1419.5 477.7 L1422.4 478.7 L1425.0 476.8 L1427.6 471.0 L1429.7 467.4 L1432.1 471.0 L1434.4 472.9 L1436.5 470.4 L1438.7 468.2 L1440.4 470.8 L1442.1 475.5 L1444.2 474.6 L1446.2 477.7 L1449.4 477.7 L1451.0 477.4 L1452.8 482.6 L1454.9 485.8 L1456.7 482.6 L1457.9 476.2 L1460.0 474.2 L1461.8 472.6 L1463.3 476.4 L1466.3 474.6 L1470.1 473.6 L1473.3 473.3 L1474.4 474.6 L1476.2 472.1 L1477.8 474.6 L1479.7 475.5 L1481.3 473.3 L1484.2 472.9 L1485.1 467.2 L1486.4 465.9 L1488.1 467.8 L1490.6 467.4 L1491.9 471.3 L1493.8 471.3 L1496.4 466.5 L1499.6 465.9 L1502.2 466.9 L1505.1 469.7 L1507.7 466.2 L1509.9 466.2 L1512.4 468.2 L1515.4 466.5 L1517.9 467.2 L1520.1 470.4 L1522.7 465.9 L1524.9 467.2 L1527.2 470.0 L1529.7 471.3 L1532.1 473.3 L1535.5 473.3 L1537.4 472.9 L1539.0 471.3 L1541.3 472.9 L1543.8 475.9 L1545.8 472.3 L1548.3 470.4 L1550.5 471.3 L1552.2 467.8 L1554.4 467.2 L1556.0 464.6 L1557.9 464.4 L1560.5 466.2 L1563.1 464.6 L1565.6 465.6 L1567.6 465.6 L1569.2 468.5 L1571.8 468.5 L1573.3 462.7 L1574.9 460.1 L1576.9 462.3 L1578.5 460.1 L1580.4 459.2 L1582.6 459.5 L1584.2 456.3 L1585.9 453.3 L1587.7 456.9 L1589.7 457.6 L1591.9 455.4 L1593.6 449.9 L1595.1 446.9 L1597.1 448.6 L1599.0 449.9 L1601.5 449.2 L1603.1 444.7 L1605.1 442.8 L1606.7 440.9 L1608.6 446.0 L1610.3 446.7 L1611.8 443.8 L1614.1 447.9 L1616.3 449.9 L1618.2 449.2 L1621.0 446.0 L1624.0 443.5 L1627.2 442.8 L1629.7 442.8 L1631.3 440.9 L1632.6 436.7 L1634.9 435.4 L1636.8 434.9 L1638.5 432.3 L1640.6 431.0 L1641.9 432.3 L1643.6 430.0 L1646.4 428.5 L1648.3 427.4 L1650.3 427.2 L1652.2 426.2 L1653.8 429.4 L1655.1 427.7 L1656.7 431.9 L1658.2 433.8 L1660.3 432.6 L1661.5 426.2 L1664.1 423.3 L1665.6 425.1 L1666.9 427.7 L1668.8 425.1 L1670.8 423.6 L1673.6 423.6 L1676.2 425.1 L1678.2 427.2 L1680.0 428.5 L1681.7 426.2 L1683.3 432.8 L1685.1 431.5 L1687.2 434.5 L1689.4 436.4 L1691.9 436.4 L1693.8 434.9 L1695.8 433.2 L1697.7 436.2 L1700.0 440.3 L1700.7 440.3 L1703.4 440.6 L1706.7 441.9 L1708.5 437.0 L1711.4 438.4 L1712.7 432.7 L1714.9 431.0 L1717.6 428.8 L1719.0 426.7 L1720.9 434.3 L1722.5 427.2 L1724.1 423.9 L1727.4 423.2 L1728.8 418.8 L1730.3 420.7 L1733.4 419.9 L1735.6 418.8 L1737.2 414.1 L1739.7 413.0 L1741.9 420.1 L1744.3 416.3 L1746.7 414.9 L1749.2 417.4 L1751.9 415.8 L1754.1 415.2 L1756.3 411.4 L1759.0 408.1 L1762.3 409.8 L1766.1 410.5 L1768.8 411.6 L1770.4 413.6 L1774.8 413.4 L1778.1 413.0 L1781.1 415.5 L1783.3 414.1 L1785.7 412.0 L1787.3 407.6 L1790.1 404.0 L1791.7 402.5 L1793.9 404.7 L1796.1 408.7 L1799.3 407.6 L1802.0 403.8 L1803.7 406.8 L1806.2 402.7 L1808.4 405.4 L1811.3 405.7 L1812.4 400.0 L1814.6 398.9 L1815.7 390.9 L1816.8 391.8 L1817.5 400.5 L1818.9 397.2 L1820.6 400.7 L1823.3 400.7 L1825.5 396.2 L1826.9 392.0 L1828.0 394.5 L1829.3 399.2 L1832.0 398.9 L1834.7 396.7 L1838.5 397.2 L1841.1 398.9 L1843.5 397.0 L1846.7 396.2 L1848.4 397.8 L1850.2 399.6 L1852.0 395.9 L1853.3 393.8 L1854.6 397.2 L1856.5 397.0 L1858.2 398.9" stroke="#bb152c" stroke-width="3.2"/>
<path class="d" d="M0.0 684.9 L2.6 686.4 L4.5 686.8 L6.2 689.0 L7.9 683.6 L10.3 682.3 L13.5 682.6 L16.0 680.4 L18.6 680.4 L21.8 682.3 L25.0 685.5 L27.9 688.5 L31.4 690.3 L34.6 690.3 L37.2 692.6 L39.5 695.8 L41.7 693.6 L44.9 694.5 L48.1 694.5 L50.6 695.8 L55.1 695.8 L59.0 695.4 L62.2 693.6 L64.7 691.3 L67.3 693.2 L70.5 695.4 L74.4 696.2 L78.2 696.4 L81.4 693.6 L84.6 693.6 L87.2 693.2 L89.1 691.5 L91.7 691.3 L93.8 688.5 L96.2 689.4 L99.4 689.4 L101.3 690.3 L103.2 688.5 L105.1 690.3 L108.3 690.3 L110.0 685.5 L112.8 683.3 L116.0 683.3 L117.9 687.2 L121.2 686.8 L123.7 688.5 L126.9 691.0 L129.5 691.9 L131.4 691.3 L133.1 688.5 L135.9 689.0 L138.5 687.4 L141.0 687.7 L143.3 685.9 L145.5 687.4 L147.4 685.9 L150.6 686.8 L153.2 687.7 L155.8 687.4 L157.4 683.8 L159.0 683.3 L160.3 685.1 L161.8 687.7 L164.7 686.2 L166.7 685.5 L169.2 687.4 L172.4 689.4 L174.4 688.7 L178.2 689.7 L180.1 691.3 L182.1 690.6 L184.6 692.8 L186.5 693.2 L189.1 690.6 L191.7 691.5 L195.5 690.6 L198.1 691.5 L201.9 691.9 L204.5 692.6 L207.1 691.0 L209.6 687.4 L211.5 684.2 L213.5 679.7 L215.4 679.7 L216.9 682.6 L218.6 678.5 L220.3 673.3 L221.8 665.6 L224.4 665.0 L226.7 662.4 L228.8 666.3 L230.8 668.2 L233.3 667.2 L235.9 665.6 L237.8 670.5 L239.7 666.9 L241.7 665.0 L242.9 661.5 L245.8 662.8 L248.7 660.8 L250.5 666.9 L253.5 667.9 L256.0 667.2 L257.9 668.5 L259.9 667.2 L261.8 669.2 L265.0 669.7 L267.6 665.0 L269.5 666.7 L271.4 665.4 L274.0 667.6 L276.5 668.2 L278.7 666.3 L281.3 668.8 L283.8 670.8 L285.9 668.8 L288.1 667.9 L289.7 669.2 L291.3 666.7 L293.2 662.1 L295.1 660.8 L297.1 663.1 L299.0 667.6 L300.9 669.7 L302.8 667.9 L305.4 669.5 L309.2 669.5 L312.8 670.5 L315.6 669.5 L318.8 668.2 L321.4 668.5 L323.1 666.9 L325.3 668.2 L328.5 668.2 L331.0 668.2 L333.6 669.7 L336.2 670.1 L338.1 669.2 L340.0 671.4 L342.6 671.8 L344.5 671.4 L345.8 673.1 L347.1 669.5 L349.0 671.0 L350.9 666.9 L352.8 664.4 L354.7 664.1 L357.3 665.9 L361.2 667.6 L363.7 664.4 L365.9 660.8 L368.2 663.3 L370.1 665.4 L372.1 666.9 L373.6 664.4 L376.9 664.1 L379.5 666.7 L382.3 665.9 L384.9 664.1 L387.2 665.6 L391.3 665.6 L395.1 664.6 L398.3 661.8 L401.3 660.3 L404.1 661.2 L406.4 663.7 L409.2 663.1 L411.8 661.2 L414.1 657.7 L416.7 659.9 L418.8 661.8 L421.4 659.9 L423.6 658.6 L425.6 662.4 L427.4 660.3 L428.7 654.7 L430.4 653.1 L432.3 656.4 L434.9 655.4 L437.4 657.7 L440.0 659.9 L442.6 657.3 L446.4 657.9 L448.3 654.1 L450.3 653.5 L451.8 652.2 L453.5 655.1 L457.9 655.6 L460.5 654.1 L463.1 653.1 L465.6 654.7 L468.2 653.1 L472.1 653.1 L475.9 655.6 L477.8 651.5 L479.7 647.7 L481.7 644.5 L483.6 642.6 L486.8 642.3 L489.4 643.8 L492.6 642.3 L495.1 645.4 L497.7 645.1 L499.5 640.1 L502.4 639.1 L503.7 636.3 L506.3 635.0 L510.1 635.3 L512.7 633.1 L514.6 630.1 L516.5 628.3 L518.5 623.5 L520.8 621.2 L522.1 616.4 L522.9 615.1 L524.2 619.4 L526.4 618.3 L527.7 612.6 L528.7 610.0 L530.6 610.0 L531.9 609.4 L533.2 613.5 L534.5 612.9 L535.8 608.1 L537.4 609.4 L538.7 607.8 L539.6 604.2 L541.3 602.9 L543.1 604.9 L545.1 609.1 L546.7 609.1 L548.6 606.2 L550.3 604.9 L551.8 602.9 L553.3 605.8 L554.6 605.5 L555.9 604.2 L557.2 607.1 L559.2 608.3 L562.1 607.1 L564.0 605.8 L565.3 609.1 L567.4 608.3 L569.7 610.4 L571.3 612.2 L572.9 612.2 L574.9 609.4 L577.4 608.1 L579.7 610.0 L582.6 611.3 L585.1 610.9 L586.7 608.7 L587.9 607.1 L590.0 609.1 L592.8 609.4 L595.4 609.6 L597.7 610.6 L599.2 615.1 L601.8 613.5 L605.0 613.5 L607.6 612.2 L610.1 614.5 L612.1 617.7 L614.0 619.9 L616.5 620.3 L619.1 619.0 L620.4 627.1 L621.7 627.9 L622.9 624.1 L624.9 624.5 L626.8 623.2 L628.7 625.8 L631.3 627.3 L633.8 627.1 L635.1 631.4 L637.9 635.6 L639.6 632.4 L641.3 630.9 L643.5 633.5 L644.7 638.8 L646.0 642.9 L647.7 639.9 L649.5 637.8 L651.8 638.6 L654.1 640.4 L655.9 638.6 L657.9 638.2 L659.5 640.4 L661.0 641.7 L662.7 638.8 L664.6 636.5 L667.8 636.3 L669.7 639.9 L672.3 640.8 L674.2 641.7 L676.8 639.9 L679.0 636.5 L681.0 638.2 L682.6 637.8 L683.8 636.3 L685.8 637.3 L687.9 636.3 L690.0 634.0 L691.5 636.3 L692.8 634.0 L694.7 635.6 L696.7 636.3 L699.2 634.4 L701.2 636.3 L703.1 636.5 L704.6 631.8 L706.9 629.6 L708.2 623.2 L710.1 624.7 L712.7 625.4 L714.0 622.2 L715.9 626.0 L719.1 627.3 L721.0 631.8 L722.9 634.4 L724.9 637.3 L726.8 633.5 L729.4 635.6 L731.5 637.3 L732.8 650.4 L734.5 645.3 L736.4 642.4 L738.3 641.4 L740.0 640.8 L740.5 642.2 L741.8 643.1 L745.0 642.8 L747.6 642.2 L749.7 639.2 L751.8 640.5 L754.0 640.9 L755.9 637.1 L757.8 640.0 L760.4 642.8 L762.3 647.9 L764.9 651.2 L765.9 657.6 L768.1 656.3 L770.0 653.7 L772.6 653.7 L775.1 655.4 L777.9 658.5 L780.0 656.3 L782.2 655.9 L784.7 654.1 L787.9 654.4 L790.5 655.4 L791.8 650.3 L794.4 646.0 L796.3 644.1 L798.8 645.6 L801.4 647.3 L804.6 646.0 L807.8 650.5 L810.4 649.5 L812.1 649.9 L814.2 653.3 L817.2 652.4 L820.0 653.7 L823.2 653.1 L825.8 660.1 L829.0 658.2 L832.8 660.5 L836.0 659.2 L838.2 661.0 L841.2 660.1 L843.7 665.6 L845.6 663.6 L847.9 660.5 L850.1 662.3 L852.3 660.1 L854.0 665.6 L856.9 665.3 L859.1 664.4 L861.7 668.5 L864.2 673.6 L866.8 676.4 L868.7 677.7 L870.6 674.9 L872.6 671.7 L874.5 671.3 L875.8 667.2 L878.3 663.3 L880.9 661.8 L883.1 668.2 L886.0 668.5 L889.0 665.3 L891.2 668.5 L892.4 665.9 L894.1 668.5 L895.6 663.6 L897.2 660.5 L898.8 657.6 L900.8 667.2 L904.0 666.2 L905.9 667.8 L907.2 672.3 L911.0 672.3 L912.6 669.1 L915.1 667.8 L918.1 669.1 L921.0 673.6 L923.2 674.2 L925.8 674.2 L927.9 676.4 L930.3 673.3 L933.5 673.3 L935.4 674.2 L937.9 672.3 L940.8 671.3 L943.7 674.9 L946.3 676.4 L949.5 679.4 L952.3 682.6 L954.4 686.4 L955.9 691.3 L958.2 691.8 L959.7 695.4 L961.7 694.4 L964.2 697.3 L966.2 701.2 L968.5 701.5 L970.6 704.4 L973.2 709.5 L975.8 714.4 L977.7 717.4 L979.2 717.2 L980.0 712.1 L980.5 711.7 L982.8 714.2 L985.4 716.8 L987.2 716.2 L988.8 712.1 L991.8 708.2 L993.6 713.3 L995.3 713.6 L997.2 716.4 L999.5 712.9 L1001.3 711.3 L1002.9 708.2 L1004.6 711.7 L1008.1 711.7 L1009.4 716.2 L1011.0 722.6 L1013.6 723.2 L1015.8 726.7 L1017.7 724.5 L1019.2 722.6 L1020.5 716.8 L1022.2 723.6 L1024.1 720.3 L1026.0 720.3 L1027.9 718.5 L1029.5 723.2 L1031.5 722.6 L1033.3 720.6 L1035.0 724.5 L1037.6 724.5 L1039.5 722.6 L1041.4 719.4 L1043.1 716.8 L1045.3 721.9 L1046.9 719.4 L1049.1 719.7 L1051.3 722.3 L1053.6 720.6 L1055.9 718.7 L1058.1 724.9 L1061.3 724.5 L1063.6 727.7 L1066.4 732.2 L1068.7 736.0 L1070.3 739.9 L1073.5 740.3 L1076.0 739.2 L1078.6 741.5 L1080.8 744.4 L1083.7 744.4 L1085.6 739.9 L1087.6 737.3 L1090.1 736.7 L1091.4 730.9 L1092.7 725.8 L1094.9 725.8 L1096.9 729.2 L1099.1 729.0 L1101.0 726.4 L1102.6 729.0 L1104.2 729.2 L1105.9 732.8 L1108.5 735.6 L1111.5 732.8 L1113.6 736.7 L1115.1 729.6 L1116.7 725.4 L1119.0 727.9 L1122.8 730.3 L1125.6 729.2 L1128.2 733.1 L1131.2 732.6 L1133.7 736.0 L1135.9 735.4 L1138.5 738.6 L1141.8 743.3 L1143.3 734.7 L1145.6 733.8 L1147.8 732.6 L1151.0 736.4 L1154.2 736.0 L1155.9 732.8 L1158.1 737.3 L1159.4 741.5 L1161.0 744.6 L1162.6 742.4 L1164.5 730.3 L1166.7 727.4 L1167.9 732.6 L1169.6 728.3 L1171.5 731.3 L1173.5 724.5 L1175.1 722.8 L1176.9 725.8 L1178.6 730.3 L1180.5 733.1 L1182.8 731.3 L1184.6 729.6 L1186.3 732.8 L1188.2 733.8 L1190.5 736.4 L1192.7 732.2 L1194.6 730.3 L1197.4 732.6 L1200.0 731.3 L1202.3 729.6 L1205.5 731.5 L1208.1 730.5 L1210.0 729.2 L1212.3 731.3 L1214.5 730.3 L1216.4 732.2 L1218.3 733.8 L1220.0 739.2 L1220.8 739.9 L1222.8 736.7 L1224.6 735.6 L1226.9 737.3 L1229.2 739.2 L1230.8 743.1 L1233.6 745.6 L1236.9 747.9 L1239.1 751.4 L1241.3 751.0 L1243.3 749.2 L1245.5 751.4 L1247.7 755.9 L1250.6 757.8 L1252.3 759.1 L1253.2 761.7 L1254.9 761.7 L1256.2 759.1 L1258.3 761.3 L1260.5 762.6 L1262.2 762.1 L1264.1 759.7 L1266.4 756.2 L1268.2 758.5 L1270.3 757.2 L1272.4 760.4 L1274.4 759.7 L1275.9 759.1 L1276.9 752.1 L1278.8 753.6 L1281.0 755.3 L1283.3 754.0 L1285.6 753.3 L1287.4 749.7 L1288.7 744.1 L1291.7 745.0 L1294.2 747.9 L1296.4 745.0 L1299.4 745.0 L1301.5 743.3 L1304.1 744.6 L1306.4 747.6 L1309.6 750.1 L1312.8 746.9 L1314.1 743.7 L1316.7 741.5 L1319.2 741.2 L1321.8 742.8 L1323.7 743.7 L1326.3 742.4 L1328.2 745.4 L1329.7 746.9 L1331.4 743.1 L1334.0 739.2 L1336.5 734.7 L1339.7 733.8 L1340.8 726.4 L1342.9 722.8 L1346.2 725.8 L1347.4 731.5 L1349.4 734.1 L1351.0 736.0 L1353.2 731.8 L1354.9 726.2 L1357.1 725.4 L1359.0 725.1 L1360.0 720.0 L1361.8 719.7 L1364.7 718.5 L1366.7 721.9 L1368.2 724.5 L1369.9 721.5 L1371.8 728.3 L1374.4 727.7 L1376.7 726.4 L1378.5 729.2 L1380.8 730.5 L1383.3 728.3 L1385.9 726.4 L1388.2 727.1 L1389.5 723.2 L1391.7 722.3 L1393.6 722.8 L1395.1 727.1 L1396.8 729.2 L1399.4 730.0 L1401.3 731.5 L1402.8 727.1 L1404.5 732.2 L1406.7 734.4 L1409.0 733.5 L1410.9 731.8 L1412.8 733.5 L1415.1 731.3 L1417.9 729.2 L1419.9 732.2 L1422.8 731.8 L1425.6 730.3 L1427.2 726.4 L1428.2 717.4 L1429.7 715.1 L1431.8 717.7 L1434.6 719.0 L1437.2 715.9 L1439.7 715.1 L1441.7 720.0 L1445.5 722.8 L1448.7 722.3 L1450.6 721.3 L1453.2 723.8 L1455.8 725.8 L1458.3 725.8 L1460.0 723.2 L1460.8 722.3 L1462.1 722.6 L1464.4 726.7 L1466.9 724.5 L1470.1 723.2 L1472.7 724.5 L1475.3 726.4 L1477.8 726.7 L1479.7 727.7 L1481.7 725.4 L1483.6 725.1 L1485.9 721.3 L1488.1 722.3 L1490.3 722.3 L1492.3 725.1 L1493.8 726.7 L1497.1 721.9 L1500.3 720.6 L1502.2 720.6 L1504.4 721.9 L1506.0 714.9 L1507.9 712.3 L1510.3 713.3 L1513.1 714.6 L1515.6 712.6 L1518.2 712.6 L1520.5 715.9 L1522.7 714.9 L1524.6 714.9 L1527.2 717.4 L1529.7 719.0 L1532.3 718.5 L1535.1 721.0 L1538.1 719.7 L1540.6 719.4 L1543.6 721.5 L1545.8 717.7 L1548.7 716.4 L1550.5 719.4 L1552.2 716.4 L1554.1 715.5 L1556.0 712.1 L1558.6 713.8 L1562.4 717.4 L1565.0 717.4 L1566.9 716.2 L1569.2 718.5 L1572.1 715.5 L1575.3 710.4 L1578.5 710.8 L1582.3 710.4 L1584.2 708.7 L1586.2 706.2 L1588.7 709.7 L1590.0 704.0 L1592.3 702.7 L1594.9 697.2 L1597.1 700.1 L1599.0 700.5 L1600.9 700.8 L1602.8 694.6 L1604.7 693.3 L1606.7 692.4 L1609.0 695.9 L1611.8 694.6 L1614.1 696.9 L1616.7 698.5 L1619.5 696.9 L1621.4 695.4 L1624.4 694.4 L1626.9 693.7 L1629.1 693.7 L1631.7 693.1 L1632.9 687.9 L1635.5 689.9 L1637.4 689.2 L1639.4 686.0 L1641.5 683.8 L1644.5 682.2 L1647.4 680.5 L1650.3 680.3 L1653.5 680.5 L1656.0 680.0 L1657.3 684.7 L1659.0 685.6 L1660.8 683.5 L1662.8 677.7 L1664.4 675.4 L1666.9 675.4 L1669.2 673.6 L1671.4 671.3 L1673.3 671.9 L1675.3 673.6 L1677.8 672.3 L1679.7 673.2 L1681.7 671.9 L1683.6 676.4 L1685.5 674.5 L1688.5 677.4 L1690.6 675.4 L1692.6 677.1 L1694.5 676.2 L1697.1 676.4 L1699.0 677.9 L1700.0 680.3 L1701.2 681.7 L1703.4 681.5 L1705.6 680.1 L1707.8 681.2 L1711.1 680.4 L1712.7 675.7 L1714.9 675.0 L1717.6 673.9 L1719.0 672.8 L1720.5 674.6 L1722.5 668.6 L1724.7 667.6 L1727.4 667.0 L1729.0 665.2 L1731.2 665.9 L1733.9 665.4 L1736.1 662.7 L1737.8 659.9 L1739.7 659.4 L1741.6 661.6 L1743.7 660.2 L1746.5 661.0 L1748.9 663.2 L1751.4 661.6 L1753.9 663.0 L1756.8 661.6 L1758.7 658.0 L1760.6 659.7 L1763.0 662.1 L1765.5 659.9 L1767.7 659.4 L1770.4 660.8 L1773.2 660.5 L1775.9 659.9 L1778.6 661.6 L1781.3 663.4 L1783.3 663.0 L1785.7 659.4 L1787.3 657.2 L1789.5 655.8 L1791.7 653.9 L1794.4 653.9 L1797.1 654.7 L1799.9 654.3 L1802.0 651.8 L1804.2 652.5 L1806.2 651.0 L1808.6 653.2 L1810.8 654.5 L1812.4 651.2 L1814.6 649.0 L1815.7 643.8 L1817.1 649.0 L1818.4 646.9 L1820.6 650.7 L1822.7 649.6 L1824.9 645.8 L1826.9 641.6 L1828.4 645.5 L1830.9 647.9 L1833.6 647.1 L1836.9 646.3 L1839.6 646.9 L1841.3 647.9 L1843.5 646.6 L1845.6 646.3 L1846.9 643.0 L1848.7 645.8 L1851.1 645.2 L1853.0 642.0 L1854.9 643.0 L1856.5 644.7 L1858.2 645.8" stroke="#7ed000" stroke-width="3.2"/>
<rect x="1" y="289" width="576" height="47" rx="4" ry="4" fill="rgb(225,225,225)" fill-opacity="0.46"/>
<rect x="13" y="307" width="12" height="12" fill="#2868a8"/>
<text x="28.8" y="320.6" font-size="20" textLength="538.2" lengthAdjust="spacingAndGlyphs">Canada Sell 10Y &amp; Buy 30Y Bond Yield Spread - Last Price</text>
<rect x="1" y="531" width="565" height="47" rx="4" ry="4" fill="rgb(225,225,225)" fill-opacity="0.46"/>
<rect x="13" y="549" width="12" height="12" fill="#bb152c"/>
<text x="28.8" y="562.8" font-size="20" textLength="527.2" lengthAdjust="spacingAndGlyphs">Canada Sell 5Y &amp; Buy 10Y Bond Yield Spread - Last Price</text>
<rect x="1" y="764" width="721.5" height="56" rx="4" ry="4" fill="rgb(225,225,225)" fill-opacity="0.46"/>
<rect x="15" y="786" width="12" height="12" fill="#7ed000"/>
<text x="30.2" y="801.8" font-size="27" textLength="680.5" lengthAdjust="spacingAndGlyphs">Canada Sell 2Y &amp; Buy 10Y Bond Yield Spread - Last Price</text>
<rect x="0" y="337" width="2041" height="5" fill="#1e1e1e"/>
<rect x="0" y="338" width="2041" height="3" fill="#4a4a4a"/>
<rect x="1013" y="338" width="15" height="1" fill="#9a9a9a"/>
<rect x="1013" y="340" width="15" height="1" fill="#9a9a9a"/>
<rect x="0" y="579" width="2041" height="5" fill="#1e1e1e"/>
<rect x="0" y="580" width="2041" height="3" fill="#4a4a4a"/>
<rect x="1013" y="580" width="15" height="1" fill="#9a9a9a"/>
<rect x="1013" y="582" width="15" height="1" fill="#9a9a9a"/>
<text x="1901.6" y="158.1" font-size="29.3" textLength="68" lengthAdjust="spacingAndGlyphs">50.00</text>
<text x="1901.6" y="243.1" font-size="29.3" textLength="53" lengthAdjust="spacingAndGlyphs">0.00</text>
<text x="1902.4" y="328.1" font-size="29.3" textLength="80" lengthAdjust="spacingAndGlyphs">-50.00</text>
<text x="1901.6" y="391.1" font-size="29.3" textLength="68" lengthAdjust="spacingAndGlyphs">50.00</text>
<text x="1901.6" y="471.1" font-size="29.3" textLength="53" lengthAdjust="spacingAndGlyphs">0.00</text>
<text x="1902.4" y="550.1" font-size="29.3" textLength="80" lengthAdjust="spacingAndGlyphs">-50.00</text>
<text x="1901.6" y="633.1" font-size="29.3" textLength="83" lengthAdjust="spacingAndGlyphs">100.00</text>
<text x="1901.6" y="693.1" font-size="29.3" textLength="53" lengthAdjust="spacingAndGlyphs">0.00</text>
<text x="1902.4" y="753.1" font-size="29.3" textLength="94" lengthAdjust="spacingAndGlyphs">-100.00</text>
<text x="1902.4" y="813.1" font-size="29.3" textLength="94" lengthAdjust="spacingAndGlyphs">-200.00</text>
<path d="M1889.5 184.5 L1899.5 168.5 L2001.5 168.5 L2001.5 200.5 L1899.5 200.5 Z" fill="#2868a8" stroke="#000" stroke-width="1"/>
<text x="1901.2" y="194.5" font-size="29.3" textLength="69.4" lengthAdjust="spacingAndGlyphs" style="fill:#fff">28.90</text>
<path d="M1889.5 400.5 L1899.5 384.5 L2001.5 384.5 L2001.5 416.5 L1899.5 416.5 Z" fill="#bb152c" stroke="#000" stroke-width="1"/>
<text x="1901.2" y="410.5" font-size="29.3" textLength="70.4" lengthAdjust="spacingAndGlyphs" style="fill:#fff">38.17</text>
<path d="M1889.5 647.5 L1899.5 631.5 L2001.5 631.5 L2001.5 663.5 L1899.5 663.5 Z" fill="#7ed000" stroke="#000" stroke-width="1"/>
<text x="1901.2" y="657.5" font-size="29.3" textLength="69.9" lengthAdjust="spacingAndGlyphs" style="fill:#000">60.66</text>
<text transform="translate(2009.8 165.8) rotate(90)" font-size="35" textLength="108.5" lengthAdjust="spacingAndGlyphs">10Y/5Y</text>
<text transform="translate(2009.8 406.8) rotate(90)" font-size="35" textLength="108.5" lengthAdjust="spacingAndGlyphs">10Y/5Y</text>
<text transform="translate(2009.8 649.0) rotate(90)" font-size="35" textLength="108.5" lengthAdjust="spacingAndGlyphs">10Y/2Y</text>
<text x="79" y="878.3" font-size="27" text-anchor="middle" textLength="61.4" lengthAdjust="spacingAndGlyphs">2019</text>
<text x="316.5" y="878.3" font-size="27" text-anchor="middle" textLength="61.4" lengthAdjust="spacingAndGlyphs">2020</text>
<text x="631.7" y="878.3" font-size="27" text-anchor="middle" textLength="61.4" lengthAdjust="spacingAndGlyphs">2021</text>
<text x="947" y="878.3" font-size="27" text-anchor="middle" textLength="61.4" lengthAdjust="spacingAndGlyphs">2022</text>
<text x="1259.5" y="878.3" font-size="27" text-anchor="middle" textLength="61.4" lengthAdjust="spacingAndGlyphs">2023</text>
<text x="1574" y="878.3" font-size="27" text-anchor="middle" textLength="61.4" lengthAdjust="spacingAndGlyphs">2024</text>
<text x="1810" y="878.3" font-size="27" text-anchor="middle" textLength="61.4" lengthAdjust="spacingAndGlyphs">2025</text>
<text x="5.6" y="908.4" font-size="21.5" textLength="90.5" lengthAdjust="spacingAndGlyphs" class="b" stroke="#000" stroke-width="0.3">Source:</text>
<text x="105.4" y="908.4" font-size="21.5" textLength="131.5" lengthAdjust="spacingAndGlyphs" class="b" stroke="#000" stroke-width="0.3">CHARTbeat</text>
<text x="2" y="930.5" font-size="15" textLength="796.5" lengthAdjust="spacingAndGlyphs" style="white-space:pre">CAYC1030 Index (Canada Sell 10Y &amp; Buy 30Y Bond Yield Spread) CAN Term Spreads  Daily 29JUN2019-28MAY2025</text>
<text x="1196.9" y="930.5" font-size="15" textLength="284.4" lengthAdjust="spacingAndGlyphs">Copyright© 2025 Bloomberg Finance L.P.</text>
<text x="1881.3" y="930.5" font-size="15" textLength="157" lengthAdjust="spacingAndGlyphs">27-May-2025 14:19:57</text>
</svg>
</body></html>
